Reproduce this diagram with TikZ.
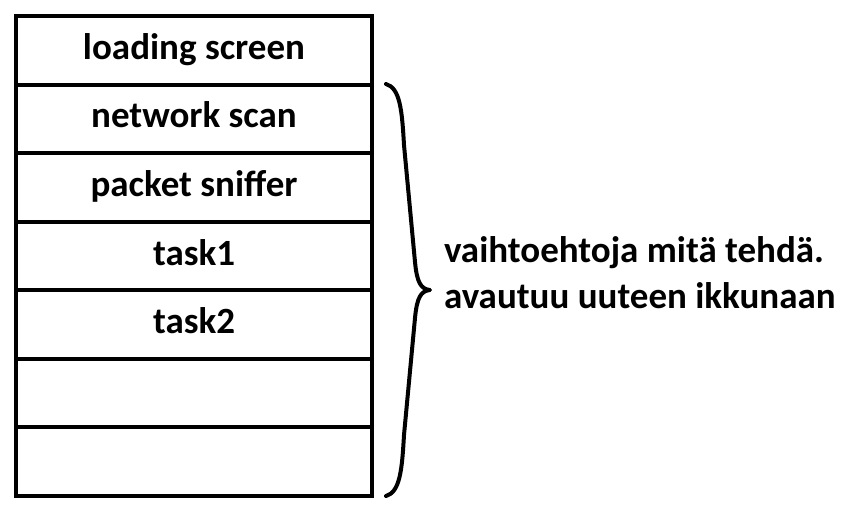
\documentclass[tikz,border=0pt]{standalone}
\usepackage{fontspec}
\setmainfont{Carlito}
\usetikzlibrary{positioning}

\begin{document}
\begin{tikzpicture}[x=1pt, y=1pt, line width=4pt,
    row/.style={draw, rectangle, minimum width=356pt, minimum height=68.57pt, outer sep=0pt, inner sep=0pt, text height=25pt, text depth=7pt, font=\fontsize{37}{46}\selectfont\bfseries},
    note/.style={align=left, inner sep=0pt, font=\fontsize{37}{46}\selectfont\bfseries}]

    \useasboundingbox (0,0) rectangle (846,-515);

    \node[row] (R1) at (194,-50.3) {loading screen};
    \node[row, below=0pt of R1] (R2) {network scan};
    \node[row, below=0pt of R2] (R3) {packet sniffer};
    \node[row, below=0pt of R3] (R4) {task1};
    \node[row, below=0pt of R4] (R5) {task2};
    \node[row, below=0pt of R5] (R6) {};
    \node[row, below=0pt of R6] (R7) {};

    \coordinate (Btop) at (386,-84);
    \coordinate (Btip) at (430,-290);
    \coordinate (Bbot) at (386,-496);
    \draw[line cap=round, line join=round] (Btop) .. controls (400,-88) and (402,-110) .. (404,-145) -- (415,-262)
        .. controls (417,-283) and (421,-289) .. (Btip)
        .. controls (421,-291) and (417,-297) .. (415,-318) -- (404,-435)
        .. controls (402,-470) and (400,-492) .. (Bbot);

    \node[note, right=12pt of Btip, yshift=17.5pt] (T) {vaihtoehtoja mitä tehdä.\\avautuu uuteen ikkunaan};
\end{tikzpicture}
\end{document}
